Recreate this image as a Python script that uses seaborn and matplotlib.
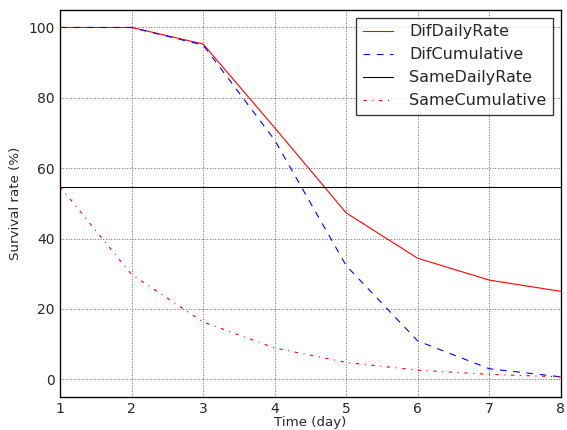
import numpy as np
import pandas as pd
import matplotlib
matplotlib.use("Agg")
import matplotlib.pyplot as plt
import seaborn as sns

sns.set_theme(style="white")
plt.rcParams["font.family"] = ["DejaVu Sans"]

days = [1, 2, 3, 4, 5, 6, 7, 8]
dif_daily_rate = [100, 100, 95.3, 71.5, 47.3, 34.4, 28.2, 25.0]
dif_cumulative = [100, 100, 95.0, 68.0, 32.3, 10.9, 3.0, 0.7]
same_daily_rate = [54.7, 54.7, 54.7, 54.7, 54.7, 54.7, 54.7, 54.7]
same_cumulative = [54.7, 29.8, 16.3, 8.9, 4.8, 2.6, 1.4, 0.7]

# old-matplotlib style dash patterns (points)
series = [
    ("DifDailyRate", dif_daily_rate, "#ff0000", None),
    ("DifCumulative", dif_cumulative, "#0000ff", (6, 6)),
    ("SameDailyRate", same_daily_rate, "black", None),
    ("SameCumulative", same_cumulative, "#ff0000", (3, 5, 1, 5)),
]

fig = plt.figure(figsize=(567 / 80, 430 / 80), dpi=80)
ax = fig.add_axes([0.106, 0.077, 0.883, 0.9])

for name, vals, color, dash in series:
    df = pd.DataFrame({"day": days, "rate": vals})
    sns.lineplot(data=df, x="day", y="rate", ax=ax, color=color,
                 linewidth=1.0, label=name)
    if dash is not None:
        ax.lines[-1].set_dashes(dash)

ax.set_xlim(1, 8)
ax.set_ylim(-5, 105)
ax.set_xticks(days)
ax.set_yticks([0, 20, 40, 60, 80, 100])
ax.grid(True, color="#222222", linestyle=(0, (1.5, 2.5)), linewidth=0.6)
ax.tick_params(direction="in", length=4, labelsize=12.5, pad=5, color="black")
for s in ax.spines.values():
    s.set_color("black")
    s.set_linewidth(1.2)

ax.set_xlabel("Time (day)", fontsize=12, labelpad=0)
ax.set_ylabel("Survival rate (%)", fontsize=12, labelpad=6)

leg = ax.legend(loc="upper right", fontsize=14.4, frameon=True, fancybox=False,
                handlelength=1.9, handletextpad=1.0, borderaxespad=0.5,
                labelspacing=0.5, borderpad=0.4)
leg.get_frame().set_edgecolor("black")
leg.get_frame().set_linewidth(1.2)

fig.savefig("out.png", dpi=80)
